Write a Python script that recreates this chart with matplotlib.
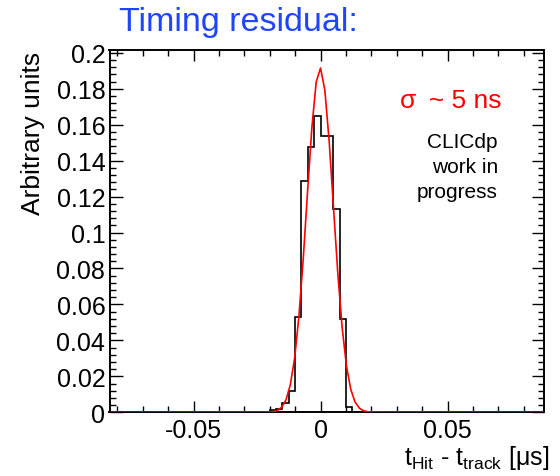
import numpy as np
import matplotlib
matplotlib.use('Agg')
import matplotlib.pyplot as plt
from matplotlib.ticker import MultipleLocator

plt.rcParams['font.family'] = ['Liberation Sans', 'DejaVu Sans']
plt.rcParams['mathtext.fontset'] = 'custom'
plt.rcParams['mathtext.rm'] = 'Liberation Sans'
plt.rcParams['mathtext.it'] = 'Liberation Sans'

# histogram: left bin edges [us] and normalised content (bin width 2.5 ns)
bin_width = 0.0025
bin_left = [-0.025, -0.0225, -0.02, -0.0175, -0.015, -0.0125, -0.01, -0.0075,
            -0.005, -0.0025, 0.0, 0.0025, 0.005, 0.0075, 0.01]
bin_content = [0.0003, 0.0004, 0.0012, 0.0020, 0.0050, 0.0121, 0.0532, 0.1287,
               0.1477, 0.1647, 0.1535, 0.1535, 0.1133, 0.0518, 0.0030]

# gaussian fit curve
fit_x = [-0.0825, -0.0204, -0.0187, -0.0170, -0.0153, -0.0136, -0.0119, -0.0102,
         -0.0085, -0.0068, -0.0051, -0.0034, -0.0017, 0.0, 0.0017, 0.0034,
         0.0051, 0.0068, 0.0085, 0.0102, 0.0119, 0.0136, 0.0153, 0.0170,
         0.0187, 0.0204, 0.0885]
fit_y = [0.0, 0.0001, 0.0003, 0.0010, 0.0028, 0.0069, 0.0153, 0.0302,
         0.0536, 0.0856, 0.1229, 0.1585, 0.1838, 0.1915, 0.1792, 0.1508,
         0.1140, 0.0774, 0.0473, 0.0259, 0.0128, 0.0057, 0.0023, 0.0008,
         0.0003, 0.0001, 0.0]

x_range = (-0.0831, 0.0878)
y_range = (0.0, 0.2018)

W, H = 560, 477
fig = plt.figure(figsize=(W / 100, H / 100), dpi=100)
ax = fig.add_axes([109.5 / W, 1 - 413.3 / H, 434 / W, 362.8 / H])

edges = list(bin_left) + [bin_left[-1] + bin_width]
ax.stairs(bin_content, edges, baseline=0, color='black', lw=1.2)
# fit drawn on top so the zero line tints the bottom axis like the original
ax.plot(fit_x, fit_y, color='red', lw=1.2, zorder=3)

ax.set_xlim(*x_range)
ax.set_ylim(*y_range)

ax.xaxis.set_minor_locator(MultipleLocator(0.01))
ax.yaxis.set_minor_locator(MultipleLocator(0.004))
ax.set_xticks([-0.05, 0, 0.05])
ax.set_xticklabels(['-0.05', '0', '0.05'])
yt = [0, 0.02, 0.04, 0.06, 0.08, 0.1, 0.12, 0.14, 0.16, 0.18, 0.2]
ax.set_yticks(yt)
ax.set_yticklabels(['0', '0.02', '0.04', '0.06', '0.08', '0.1', '0.12', '0.14',
                    '0.16', '0.18', '0.2'])

ax.tick_params(which='both', direction='in', top=True, right=True, width=1.0)
ax.tick_params(axis='x', which='major', length=8, pad=4, labelsize=18)
ax.tick_params(axis='x', which='minor', length=4)
ax.tick_params(axis='y', which='major', length=9, pad=3, labelsize=18)
ax.tick_params(axis='y', which='minor', length=4.5)
for s in ax.spines.values():
    s.set_linewidth(1.4)

fig.text(33 / W, 1 - 52 / H, 'Arbitrary units', rotation=90, ha='center',
         va='top', fontsize=19)
fig.text(549 / W, 1 - 465 / H, r'$\mathregular{t_{Hit}}$ - $\mathregular{t_{track}}$ [μs]',
         ha='right', va='baseline', fontsize=18)

fig.text(119 / W, 1 - 22 / H, 'Timing residual:', color='#1f45fc',
         ha='left', va='center', fontsize=24.5)
fig.text(502 / W, 1 - 101 / H, 'σ\u2009 ~ 5 ns', color='red', ha='right',
         va='center', fontsize=19)
for txt, yb in [('CLICdp', 148.5), ('work in', 173.5), ('progress', 198.5)]:
    fig.text(498 / W, 1 - yb / H, txt, ha='right', va='baseline', fontsize=15)

fig.savefig('out.png', dpi=100)
